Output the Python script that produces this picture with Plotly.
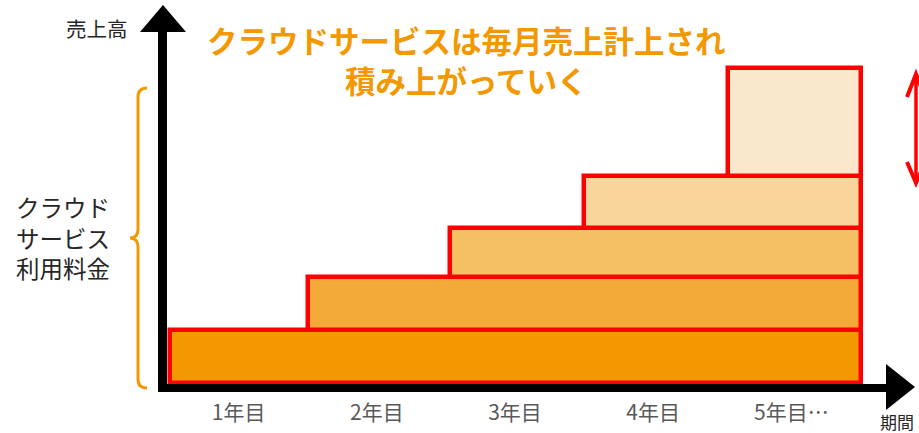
import plotly.graph_objects as go

# ---- data ----
years = ["1年目", "2年目", "3年目", "4年目", "5年目…"]
year_pos = [1, 2, 3, 4, 5]
layer_start = [0.5, 1.5, 2.53, 3.5, 4.54]      # x where each revenue layer begins
layer_height = [1.0, 1.0, 0.92, 0.98, 2.05]    # monthly revenue added by each layer
layer_colors = ["#F39800", "#F4AA38", "#F5C064", "#F8D59B", "#FAE8CC"]
title_lines = ["クラウドサービスは毎月売上計上され", "積み上がっていく"]
brace_lines = ["クラウド", "サービス", "利用料金"]
y_title = "売上高"
x_title = "期間"

end_x = year_pos[-1] + 0.5
centers = [(s + end_x) / 2 for s in layer_start]
widths = [end_x - s for s in layer_start]
bases = []
acc = 0.0
for h in layer_height:
    bases.append(acc)
    acc += h

# ---- layout geometry (pixels) ----
FW, FH = 919, 433
L, R, T, B = 150, 909, 0, 393
W, H = R - L, B - T
PX_PER_X = 138.2
PX_PER_Y = 53.0
X0_PIX = 169.5   # pixel of x = 0.5
Y0_PIX = 383.0   # pixel of y = 0

def px(x):
    return (x - L) / W

def py(y):
    return (B - y) / H

xr = [0.5 - (X0_PIX - L) / PX_PER_X, 0.5 + (R - X0_PIX) / PX_PER_X]
yr = [-(B - Y0_PIX) / PX_PER_Y, (Y0_PIX - T) / PX_PER_Y]

FONT = "Noto Sans CJK JP"

fig = go.Figure()
fig.add_trace(go.Bar(
    x=centers, y=layer_height, base=bases, width=widths,
    marker=dict(color=layer_colors, line=dict(color="#FF0000", width=4.5)),
    hoverinfo="skip", showlegend=False,
))

shapes = []
# y axis shaft + head
shapes.append(dict(type="line", xref="paper", yref="paper",
                   x0=px(162.5), x1=px(162.5), y0=py(392), y1=py(30),
                   line=dict(color="black", width=9), layer="above"))
shapes.append(dict(type="path", xref="paper", yref="paper",
                   path=f"M {px(140)} {py(32)} L {px(163)} {py(5)} L {px(186)} {py(32)} Z",
                   fillcolor="black", line=dict(width=0), layer="above"))
# x axis shaft + head
shapes.append(dict(type="line", xref="paper", yref="paper",
                   x0=px(158), x1=px(889), y0=py(388), y1=py(388),
                   line=dict(color="black", width=8), layer="above"))
shapes.append(dict(type="path", xref="paper", yref="paper",
                   path=f"M {px(886)} {py(364)} L {px(915)} {py(387)} L {px(886)} {py(410)} Z",
                   fillcolor="black", line=dict(width=0), layer="above"))
# brace
bp = (f"M {px(147)} {py(88)} Q {px(138)} {py(88)} {px(138)} {py(97)} "
      f"L {px(138)} {py(229)} Q {px(138)} {py(238)} {px(130)} {py(238)} "
      f"Q {px(138)} {py(238)} {px(138)} {py(247)} "
      f"L {px(138)} {py(379)} Q {px(138)} {py(388)} {px(147)} {py(388)}")
shapes.append(dict(type="path", xref="paper", yref="paper", path=bp,
                   line=dict(color="#F39800", width=3)))
# red double arrow at right
shapes.append(dict(type="line", xref="paper", yref="paper",
                   x0=px(916), x1=px(916), y0=py(74), y1=py(183),
                   line=dict(color="#FF0000", width=3.5)))
shapes.append(dict(type="path", xref="paper", yref="paper",
                   path=f"M {px(907)} {py(97)} L {px(916)} {py(74)} L {px(925)} {py(97)}",
                   line=dict(color="#FF0000", width=4)))
shapes.append(dict(type="path", xref="paper", yref="paper",
                   path=f"M {px(907)} {py(162)} L {px(916)} {py(183)} L {px(925)} {py(162)}",
                   line=dict(color="#FF0000", width=4)))

ann = []
ann.append(dict(text="<br>".join(f"<b>{t}</b>" for t in title_lines), x=px(466), y=py(60),
                font=dict(family=FONT, size=30.5, color="#F39800")))
ann.append(dict(text="<br>".join(brace_lines), x=px(63), y=py(237.5),
                font=dict(family=FONT, size=23.5, color="#262626")))
ann.append(dict(text=y_title, x=px(97), y=py(28),
                font=dict(family=FONT, size=20.5, color="#262626")))
ann.append(dict(text=x_title, x=px(897), y=py(421),
                font=dict(family=FONT, size=17, color="#262626")))
for a in ann:
    a.update(xref="paper", yref="paper", showarrow=False,
             xanchor="center", yanchor="middle", align="center")

fig.update_layout(
    width=FW, height=FH,
    margin=dict(l=L, r=FW - R, t=T, b=FH - B, pad=0),
    paper_bgcolor="white", plot_bgcolor="white",
    shapes=shapes, annotations=ann,
    xaxis=dict(range=xr, tickvals=year_pos, ticktext=years, showgrid=False,
               zeroline=False, showline=False, ticks="", ticklabelstandoff=5,
               tickfont=dict(family=FONT, size=21, color="#595959"), fixedrange=True),
    yaxis=dict(range=yr, showgrid=False, zeroline=False, showline=False,
               showticklabels=False, ticks="", fixedrange=True),
    bargap=0,
)

fig.write_html("out.html", config={"displayModeBar": False})
